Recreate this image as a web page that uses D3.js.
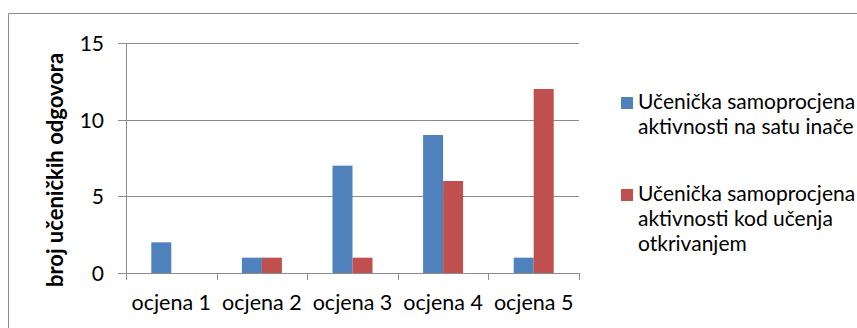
<!DOCTYPE html>
<html>
<head>
<meta charset="utf-8">
<script src="https://cdn.jsdelivr.net/npm/d3@7"></script>
<style>
  html, body { margin: 0; padding: 0; background: #fff; }
  svg { display: block; }
  text { font-family: Lato, "Open Sans", sans-serif; fill: #000; }
</style>
</head>
<body>
<svg id="chart" width="857" height="328"></svg>
<script>
// Categories (grades) and the two series of student answers
const categories = ["ocjena 1", "ocjena 2", "ocjena 3", "ocjena 4", "ocjena 5"];
const seriesNames = [
  "Učenička samoprocjena aktivnosti na satu inače",
  "Učenička samoprocjena aktivnosti kod učenja otkrivanjem"
];
const valuesUsual = [2, 1, 7, 9, 1];
const valuesDiscovery = [0, 1, 1, 6, 12];
const yTicks = [0, 5, 10, 15];
const yLabel = "broj učeničkih odgovora";

const legendLines = [
  ["Učenička samoprocjena", "aktivnosti na satu inače"],
  ["Učenička samoprocjena", "aktivnosti kod učenja", "otkrivanjem"]
];
const colors = ["#4F81BD", "#C0504D"];

const svg = d3.select("#chart");

// Outer frame
svg.append("path")
  .attr("d", "M8.5,328 V13.5 H857")
  .attr("fill", "none")
  .attr("stroke", "#8c8c8c")
  .attr("stroke-width", 1);

const plot = { left: 126, right: 579, top: 43, bottom: 273 };

const x = d3.scaleBand().domain(categories).range([plot.left, plot.right]);
const y = d3.scaleLinear().domain([0, 15]).range([plot.bottom, plot.top]);
const barW = 20;

// Gridlines with outward ticks
svg.append("g")
  .selectAll("line")
  .data(yTicks)
  .join("line")
  .attr("x1", plot.left - 8)
  .attr("x2", plot.right)
  .attr("y1", d => Math.round(y(d)) + 0.5)
  .attr("y2", d => Math.round(y(d)) + 0.5)
  .attr("stroke", "#8c8c8c")
  .attr("stroke-width", 1);

// Y axis line
svg.append("line")
  .attr("x1", plot.left + 0.5).attr("x2", plot.left + 0.5)
  .attr("y1", plot.top).attr("y2", plot.bottom + 7)
  .attr("stroke", "#8c8c8c");

// X axis category separators
const sepX = categories.map(c => x(c) + x.bandwidth()).concat([plot.left]);
svg.append("g")
  .selectAll("line")
  .data(sepX)
  .join("line")
  .attr("x1", d => Math.round(d) + 0.5)
  .attr("x2", d => Math.round(d) + 0.5)
  .attr("y1", plot.bottom)
  .attr("y2", plot.bottom + 7)
  .attr("stroke", "#8c8c8c");

// Y tick labels
svg.append("g")
  .selectAll("text")
  .data(yTicks)
  .join("text")
  .attr("x", 104)
  .attr("y", d => y(d) + 8)
  .attr("text-anchor", "end")
  .attr("font-size", 21)
  .text(d => d);

// X tick labels
svg.append("g")
  .selectAll("text")
  .data(categories)
  .join("text")
  .attr("x", d => x(d) + x.bandwidth() / 2)
  .attr("y", 310)
  .attr("text-anchor", "middle")
  .attr("font-size", 21.5)
  .text(d => d);

// Bars
const series = [valuesUsual, valuesDiscovery];
series.forEach((vals, si) => {
  svg.append("g")
    .selectAll("rect")
    .data(vals.map((v, i) => ({ v, c: categories[i] })))
    .join("rect")
    .attr("x", d => x(d.c) + x.bandwidth() / 2 - barW + si * barW)
    .attr("y", d => y(d.v))
    .attr("width", barW)
    .attr("height", d => y(0) - y(d.v))
    .attr("fill", colors[si]);
});

// Y axis title
svg.append("text")
  .attr("transform", "translate(63,170) rotate(-90)")
  .attr("text-anchor", "middle")
  .attr("font-size", 22)
  .attr("font-weight", "bold")
  .text(yLabel);

// Legend
const legendTop = [97, 189];
legendLines.forEach((lines, i) => {
  const g = svg.append("g");
  g.append("rect")
    .attr("x", 621).attr("y", legendTop[i])
    .attr("width", 12).attr("height", 12)
    .attr("fill", colors[i]);
  lines.forEach((ln, j) => {
    g.append("text")
      .attr("x", 638)
      .attr("y", legendTop[i] + 12 + j * 25)
      .attr("font-size", 21)
      .text(ln);
  });
});
</script>
</body>
</html>
